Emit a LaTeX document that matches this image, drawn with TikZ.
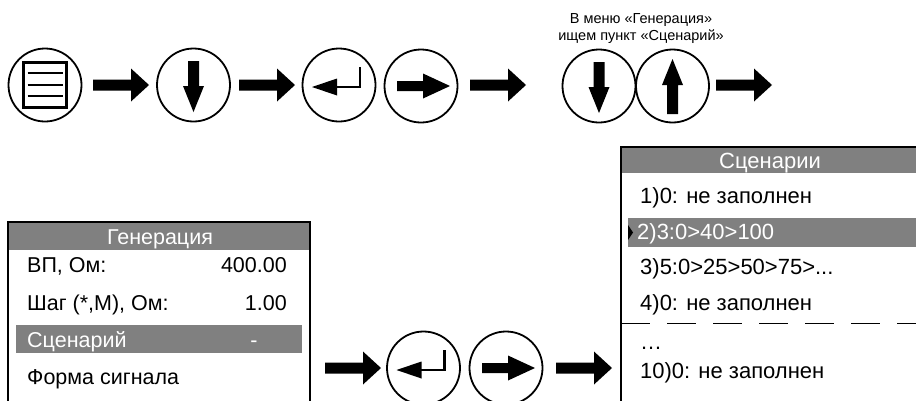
\documentclass[tikz,border=0pt]{standalone}
\usepackage{fontspec}
\setmainfont{Liberation Sans}
\definecolor{panelgray}{RGB}{128,128,128}
\tikzset{
  btn/.style={circle,draw,line width=1.8pt,minimum size=73pt,inner sep=0pt},
  bigarrow/.pic={\fill (0,-5.5) -- (38,-5.5) -- (38,-16.5) -- (56,0) -- (38,16.5) -- (38,5.5) -- (0,5.5) -- cycle;},
  downicon/.pic={\fill (-5.5,-24) -- (5.5,-24) -- (5.5,1) -- (10.5,1) -- (0,27) -- (-10.5,1) -- (-5.5,1) -- cycle;},
  upicon/.pic={\fill (-5.5,28) -- (5.5,28) -- (5.5,-1) -- (10.5,-1) -- (0,-27) -- (-10.5,-1) -- (-5.5,-1) -- cycle;},
  righticon/.pic={\fill (-24,-5) -- (2,-5) -- (2,-12.5) -- (29,0) -- (2,12.5) -- (2,5) -- (-24,5) -- cycle;},
  entericon/.pic={\fill (-27,2) -- (-2,-6.5) -- (-2,10.5) -- cycle;
                  \draw[line width=2.5pt] (-3,2) -- (21,2) -- (21,-18.5);},
  menuicon/.pic={\draw[line width=3.2pt] (-21.5,-22.5) rectangle (21.5,22.5);
                 \foreach \yy in {-12,0,11} \draw[line width=2.8pt] (-17.5,\yy) -- (17.5,\yy);},
  lefttext/.style={font=\fontsize{21.5}{24}\selectfont,inner sep=0pt},
  righttext/.style={font=\fontsize{22}{25}\selectfont,inner sep=0pt},
  white text/.style={text=white},
  smalltext/.style={font=\fontsize{14.5}{17}\selectfont,inner sep=0pt,anchor=base},
  panelframe/.style={line width=1.4pt}
}
\begin{document}
\begin{tikzpicture}[x=1pt,y=-1pt]
\useasboundingbox (0,0) rectangle (916,400);
% top row
\node[btn] (menu) at (45,85) {};
\pic at (menu.center) {menuicon};
\pic at (93,85) {bigarrow};
\node[btn] (down1) at (193.5,85) {};
\pic at (down1.center) {downicon};
\pic at (239,85) {bigarrow};
\node[btn] (enter1) at (339,85) {};
\pic at (enter1.center) {entericon};
\node[btn] (right1) at (421,86) {};
\pic at (right1.center) {righticon};
\pic at (470,85) {bigarrow};
\node[smalltext] (note1) at (641,23.5) {В меню «Генерация»};
\node[smalltext] (note2) at (641,40.5) {ищем пункт «Сценарий»};
\node[btn] (down2) at (599,86) {};
\pic at (down2.center) {downicon};
\node[btn] (up2) at (672.5,86) {};
\pic at (up2.center) {upicon};
\pic at (716,85) {bigarrow};
% left panel
\fill[panelgray] (8,222) rectangle (310,250);
\fill[panelgray] (16,325) rectangle (302,353);
\draw[panelframe] (8,410) -- (8,222) -- (310,222) -- (310,410);
\node[lefttext,white text,anchor=base] (genhead) at (160,244) {Генерация};
\node[lefttext,anchor=base west] (vp) at (27,272.5) {ВП, Ом:};
\node[lefttext,anchor=base east] (vpv) at (287,272.5) {400.00};
\node[lefttext,anchor=base west] (step) at (27,310) {Шаг (*,М), Ом:};
\node[lefttext,anchor=base east] (stepv) at (287,310) {1.00};
\node[lefttext,white text,anchor=base west] (scen) at (27,347) {Сценарий};
\node[lefttext,white text,anchor=base] (scenv) at (254,347) {-};
\node[lefttext,anchor=base west] (form) at (27,384) {Форма сигнала};
% bottom row
\pic at (325,368) {bigarrow};
\node[btn] (enter2) at (423.5,368) {};
\pic at (enter2.center) {entericon};
\node[btn] (right2) at (506,368) {};
\pic at (right2.center) {righticon};
\pic at (556,368) {bigarrow};
% right panel
\fill[panelgray] (621,147) rectangle (916,173);
\fill[panelgray] (628,218) rectangle (916,247);
\fill (628,225) -- (633,232.5) -- (628,240) -- cycle;
\draw[panelframe] (621,410) -- (621,147) -- (916,147);
\node[righttext,white text,anchor=base] (schead) at (770,168) {Сценарии};
\node[righttext,anchor=base west] (s1) at (640,203) {1)0: не заполнен};
\node[righttext,white text,anchor=base west] (s2) at (637,239) {2)3:0>40>100};
\node[righttext,anchor=base west] (s3) at (640,274.5) {3)5:0>25>50>75>...};
\node[righttext,anchor=base west] (s4) at (640,310) {4)0: не заполнен};
\draw[panelframe,dash pattern=on 29pt off 17pt] (621,323.5) -- (916,323.5);
\node[righttext,anchor=base west] (s5) at (640,349) {…};
\node[righttext,anchor=base west] (s10) at (640,378) {10)0: не заполнен};
\end{tikzpicture}
\end{document}
